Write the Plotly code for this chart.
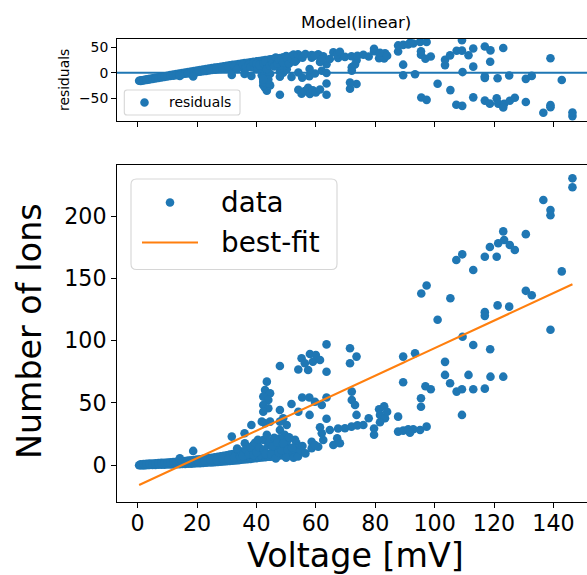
import numpy as np
import plotly.graph_objects as go

# ---------------------------------------------------------------------------
# Measured ion counts versus applied voltage [mV]
# ---------------------------------------------------------------------------
band_low_volt = [0.5, 1.0, 1.5, 2.0, 2.5, 3.0, 3.5, 4.0,
                 5, 6, 7, 8, 9, 10,
                 11, 12, 13, 14, 15, 16, 17, 18, 19, 20,
                 21, 22, 23, 24, 25, 26, 27, 28, 29, 30,
                 31, 32, 33, 34, 35, 36, 37, 38, 39, 40,
                 41, 42, 43, 44, 45, 46, 47, 48, 49, 50,
                 52, 54]
band_low_ions = [0.0, 0.0, 0.1, 0.1, 0.1, 0.2, 0.2, 0.2,
                 0.3, 0.3, 0.4, 0.4, 0.5, 0.6,
                 0.6, 0.7, 0.8, 0.9, 1.0, 1.1, 1.2, 1.3, 1.5, 1.6,
                 1.7, 1.9, 2.0, 2.2, 2.3, 2.5, 2.7, 2.9, 3.1, 3.3,
                 3.5, 3.7, 3.9, 4.1, 4.4, 4.6, 4.9, 5.1, 5.4, 5.7,
                 6.0, 6.2, 6.5, 6.8, 7.0, 7.3, 7.5, 7.8, 8.0, 8.2,
                 8.8, 9.5]

band_high_volt = [1, 2, 3, 4, 5, 6, 7, 8, 9, 10,
                  11, 12, 13, 14, 15, 16, 17, 18, 19, 20,
                  21, 22, 23, 24, 25, 26, 27, 28, 29, 30,
                  31, 32, 33, 34, 35, 36, 37, 38, 39, 40]
band_high_ions = [0.8, 1.0, 1.1, 1.3, 1.4, 1.6, 1.7, 1.9, 2.0, 2.2,
                  2.4, 2.6, 2.8, 3.0, 3.2, 3.4, 3.7, 3.9, 4.2, 4.5,
                  4.8, 5.1, 5.4, 5.7, 6.0, 6.4, 6.8, 7.2, 7.6, 8.0,
                  8.5, 9.0, 9.5, 10.0, 10.6, 11.2, 11.8, 12.5, 13.2, 14.0]

band_mid_volt = [20.5, 22.5, 24.5, 26.5, 28.5, 30.5, 32.5, 34.5, 36.5, 38.5,
                 40.5, 41.5, 43.0, 45.0, 46.5, 48.0, 50.5, 52.5]
band_mid_ions = [3.0, 3.8, 4.4, 4.2, 5.5, 5.0, 6.5, 7.0, 8.0, 9.0,
                 15.5, 12.0, 10.5, 9.5, 11.0, 10.0, 12.0, 11.5]

onset_volt = [14.2, 18.7, 31.7, 36.0, 38.3, 36.1, 38.9, 35.0, 41.2, 44.6, 49.0, 51.8,
              42.3, 44.0, 45.7, 47.9, 53.5, 50.2, 54.1, 51.8, 53.5,
              41.8, 42.9, 44.6, 47.9, 49.0, 50.2, 47.9, 49.5, 47.9, 50.5]
onset_ions = [5.6, 11.5, 23.0, 25.7, 32.3, 17.7, 16.3, 10.9, 8.2, 6.9, 8.2, 8.2,
              20.3, 16.3, 12.3, 14.9, 17.7, 16.3, 10.9, 9.6, 13.6,
              35.0, 33.7, 35.0, 35.0, 37.7, 32.3, 28.3, 24.5, 21.7, 20.3]

blob_volt = [33.5, 35.5, 36.5, 37.5, 38.0, 39.0, 39.5, 40.0, 40.5, 41.0,
             42.5, 43.0, 43.5, 44.5, 45.0, 45.5, 46.0, 46.5, 47.0, 47.5,
             48.5, 49.0, 50.0, 50.5, 51.0, 52.0, 52.5, 53.0, 54.0, 55.0,
             55.5, 56.5]
blob_ions = [13.5, 7.5, 12.5, 9.0, 14.5, 8.0, 18.0, 10.5, 20.5, 14.0,
             12.5, 9.0, 24.5, 19.0, 8.5, 15.5, 22.0, 5.5, 18.0, 10.0,
             12.0, 17.5, 6.0, 12.5, 22.5, 14.0, 6.0, 20.5, 7.0, 12.0,
             15.5, 9.5]

column_volt = [43.5, 42.9, 44.6, 42.3, 44.0, 42.3, 44.0, 42.3,
               47.9, 51.8, 55.4, 57.8, 59.7, 62.0, 63.6,
               54.1, 57.9, 63.6, 72.1, 72.1, 73.2, 73.7]
column_ions = [67.1, 60.4, 57.8, 55.1, 52.4, 48.4, 45.7, 43.0,
               44.4, 49.2, 54.4, 54.4, 51.0, 48.4, 54.4,
               43.0, 40.4, 37.3, 59.1, 52.4, 48.4, 40.4]

peak_volt = [47.9, 54.1, 55.2, 56.3, 57.4, 58.0, 59.0, 60.0, 61.4, 63.6, 63.6, 71.5, 73.7, 71.5]
peak_ions = [79.7, 76.8, 85.9, 81.9, 76.5, 89.3, 83.1, 88.5, 84.5, 75.1, 97.0, 93.9, 87.2, 81.9]

mid_volt = [58.6, 58.6, 60.8, 62.5, 59.7, 61.4, 62.0, 64.7, 67.5, 65.9, 67.2, 68.1, 69.8,
            72.0, 74.0, 76.0, 77.8, 79.6, 79.6,
            81.3, 83.0, 81.6, 83.3, 81.6, 84.0, 87.7, 87.7, 89.4, 91.1, 92.8, 91.7, 95.1, 97.3]
mid_ions = [18.9, 13.6, 14.9, 20.3, 16.3, 30.5, 25.7, 28.3, 29.5, 16.3, 21.7, 17.7, 29.7,
            31.0, 32.0, 32.3, 37.7, 29.5, 24.5,
            45.0, 47.3, 40.4, 37.7, 34.5, 43.0, 39.0, 27.0, 27.8, 28.9, 28.9, 26.1, 28.3, 31.0]

upper_volt = [89.4, 93.4, 89.4, 95.4, 95.4, 96.9, 98.7, 103.5, 103.5, 105.2, 107.4, 109.2,
              109.2, 111.4, 113.0, 116.9, 118.8, 123.1]
upper_ions = [87.2, 89.9, 66.6, 53.8, 47.0, 63.4, 61.0, 83.0, 72.5, 65.8, 59.1, 61.0,
              40.4, 72.5, 61.0, 61.5, 71.1, 71.1]

high_volt = [109.4, 113.0, 118.7, 101.0, 105.3, 95.5, 97.3,
             116.9, 116.9, 121.2, 125.1, 130.7, 132.7, 139.0, 142.8,
             113.0, 107.3, 109.3, 116.9, 120.9,
             118.6, 121.4, 123.4, 125.3, 127.0, 123.1, 130.7,
             136.6, 139.0, 139.0, 146.4, 146.4]
high_ions = [103.2, 96.5, 93.1, 116.8, 134.0, 137.8, 144.3,
             122.9, 119.9, 128.3, 127.3, 140.0, 136.4, 108.8, 155.6,
             156.7, 164.8, 169.3, 167.4, 167.4,
             175.2, 178.2, 180.8, 176.8, 172.8, 187.7, 185.5,
             212.9, 204.9, 200.7, 230.3, 223.2]

# linear model parameters (slope, intercept) of the fit
fit_slope = 1.104
fit_intercept = -16.4

x_ticks = [0, 20, 40, 60, 80, 100, 120, 140]
y_ticks = [0, 50, 100, 150, 200]
res_ticks = [-50, 0, 50]

groups = [(band_low_volt, band_low_ions), (band_high_volt, band_high_ions),
          (band_mid_volt, band_mid_ions), (onset_volt, onset_ions),
          (blob_volt, blob_ions), (column_volt, column_ions),
          (peak_volt, peak_ions), (mid_volt, mid_ions),
          (upper_volt, upper_ions), (high_volt, high_ions)]
for gv, gi in groups:
    assert len(gv) == len(gi)

volt = np.concatenate([np.asarray(g[0], float) for g in groups])
ions = np.concatenate([np.asarray(g[1], float) for g in groups])

best_fit = fit_slope * volt + fit_intercept
residuals = best_fit - ions          # model minus data
order = np.argsort(volt, kind="stable")

# ---------------------------------------------------------------------------
# Page geometry (pixels)
# ---------------------------------------------------------------------------
W, H = 587, 575
ML, MR, MT, MB = 117, 0, 39, 73
PW, PH = W - ML - MR, H - MT - MB


def fx(p):
    return (p - ML) / PW


def fy(p):
    return (H - MB - p) / PH


main_top, res_bottom = 165, 121
FONT = "DejaVu Sans"
BLUE, ORANGE = "#1f77b4", "#ff7f0e"
MS = 8.6

fig = go.Figure()

fig.add_trace(go.Scatter(
    x=volt, y=residuals, mode="markers", xaxis="x2", yaxis="y2",
    marker=dict(color=BLUE, size=MS, line=dict(width=0)),
    showlegend=False, hoverinfo="skip"))

fig.add_trace(go.Scatter(
    x=volt, y=ions, mode="markers",
    marker=dict(color=BLUE, size=MS, line=dict(width=0)),
    showlegend=False, hoverinfo="skip"))

fig.add_trace(go.Scatter(
    x=volt[order], y=best_fit[order], mode="lines",
    line=dict(color=ORANGE, width=2.1),
    showlegend=False, hoverinfo="skip"))

axis_common = dict(
    showline=True, linecolor="black", linewidth=1.1,
    ticks="outside", ticklen=4.9, tickwidth=1.1, tickcolor="black",
    showgrid=False, zeroline=False,
)

x_range = [-6.95, 151.3]
fig.update_layout(
    width=W, height=H, template="none",
    paper_bgcolor="white", plot_bgcolor="white",
    margin=dict(l=ML, r=MR, t=MT, b=MB, pad=0),
    showlegend=False,
    font=dict(family=FONT, color="black"),
    xaxis=dict(axis_common, domain=[0, 1], anchor="y", range=x_range,
               tickvals=x_ticks, mirror=True, ticklabelstandoff=-4,
               tickfont=dict(family=FONT, size=22.2, color="black")),
    yaxis=dict(axis_common, domain=[0, fy(main_top)], anchor="x",
               range=[-29.5, 241], tickvals=y_ticks,
               tickfont=dict(family=FONT, size=22.2, color="black")),
    xaxis2=dict(axis_common, domain=[0, 1], anchor="y2", range=x_range,
                tickvals=x_ticks, showticklabels=False, mirror=True,
                matches="x"),
    yaxis2=dict(axis_common, domain=[fy(res_bottom), 1], anchor="x2",
                range=[-94.7, 66], tickvals=res_ticks,
                tickfont=dict(family=FONT, size=13.9, color="black")),
)

# zero reference line of the residual panel
fig.add_shape(type="line", xref="x2 domain", yref="y2", x0=0, x1=1, y0=0, y1=0,
              line=dict(color=BLUE, width=2.1), layer="below")

# ---------------------------------------------------------------------------
# Titles and axis labels
# ---------------------------------------------------------------------------
def label(text, x, y, size, angle=0, xanchor="center"):
    fig.add_annotation(text=text, xref="paper", yref="paper", x=fx(x), y=fy(y),
                       xanchor=xanchor, yanchor="middle", showarrow=False,
                       textangle=angle, font=dict(family=FONT, size=size, color="black"))


label("Model(linear)", 355.5, 21.5, 16.7)
label("residuals", 64, 80, 13.9, angle=-90)
label("Number of Ions", 30, 331, 33.3, angle=-90)
label("Voltage [mV]", 355.5, 555.5, 33.3)

# ---------------------------------------------------------------------------
# Legends (rounded frame, handle, label)
# ---------------------------------------------------------------------------
def frame(x0, y0, x1, y1, r):
    rx, ry = r / PW, r / PH
    a, b, c, d = fx(x0), fy(y0), fx(x1), fy(y1)
    path = (f"M {a + rx},{b} L {c - rx},{b} Q {c},{b} {c},{b - ry} "
            f"L {c},{d + ry} Q {c},{d} {c - rx},{d} L {a + rx},{d} "
            f"Q {a},{d} {a},{d + ry} L {a},{b - ry} Q {a},{b} {a + rx},{b} Z")
    fig.add_shape(type="path", path=path, xref="paper", yref="paper",
                  fillcolor="rgba(255,255,255,0.8)",
                  line=dict(color="rgba(204,204,204,0.8)", width=1.1), layer="above")


def dot(x, y):
    fig.add_shape(type="circle", xref="paper", yref="paper",
                  xsizemode="pixel", ysizemode="pixel",
                  xanchor=fx(x), yanchor=fy(y),
                  x0=-MS / 2, x1=MS / 2, y0=-MS / 2, y1=MS / 2,
                  fillcolor=BLUE, line=dict(width=0), layer="above")


# main panel legend
frame(131, 179, 337, 269.5, 5.6)
dot(170, 202.5)
fig.add_shape(type="line", xref="paper", yref="paper",
              x0=fx(142), x1=fx(198), y0=fy(242.5), y1=fy(242.5),
              line=dict(color=ORANGE, width=2.1), layer="above")
label("data", 219, 202.5, 27.8, xanchor="left")
label("best-fit", 219, 242.5, 27.8, xanchor="left")

# residual panel legend
frame(124.3, 90, 240, 115, 2.8)
dot(144.5, 102.5)
label("residuals", 167, 102.5, 13.9, xanchor="left")

fig.write_html("out.html", config={"displayModeBar": False})
